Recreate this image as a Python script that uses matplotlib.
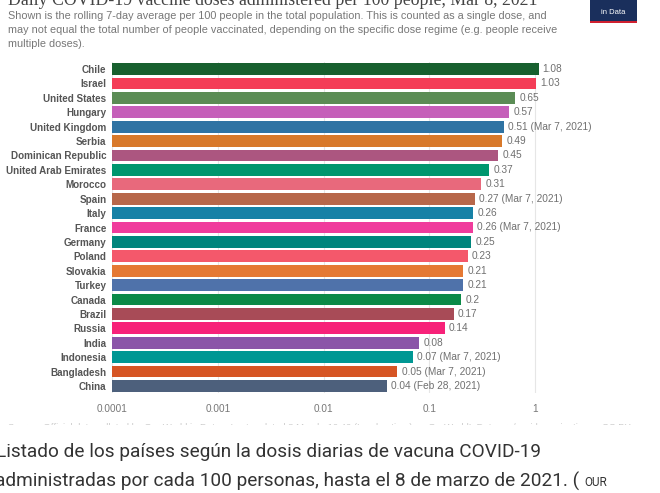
import numpy as np
import matplotlib.pyplot as plt
from matplotlib.patches import Rectangle

# datos del grafico (dosis diarias por 100 personas)
paises = ['Chile', 'Israel', 'United States', 'Hungary', 'United Kingdom', 'Serbia',
          'Dominican Republic', 'United Arab Emirates', 'Morocco', 'Spain', 'Italy',
          'France', 'Germany', 'Poland', 'Slovakia', 'Turkey', 'Canada', 'Brazil',
          'Russia', 'India', 'Indonesia', 'Bangladesh', 'China']
dosis = [1.08, 1.03, 0.65, 0.57, 0.51, 0.49, 0.45, 0.37, 0.31, 0.27, 0.26, 0.26,
         0.25, 0.23, 0.21, 0.21, 0.2, 0.17, 0.14, 0.08, 0.07, 0.05, 0.04]
etiquetas = ['1.08', '1.03', '0.65', '0.57', '0.51 (Mar 7, 2021)', '0.49', '0.45', '0.37',
             '0.31', '0.27 (Mar 7, 2021)', '0.26', '0.26 (Mar 7, 2021)', '0.25', '0.23',
             '0.21', '0.21', '0.2', '0.17', '0.14', '0.08', '0.07 (Mar 7, 2021)',
             '0.05 (Mar 7, 2021)', '0.04 (Feb 28, 2021)']
colores = ['#18602f', '#f43d57', '#5b8c55', '#c55fb9', '#2f73a3', '#d8792a', '#ac5680',
           '#00966e', '#e8697c', '#b7674a', '#1681a6', '#f03c9c', '#00857c', '#f4586b',
           '#e57934', '#4f72aa', '#0b8a47', '#a84b57', '#f72279', '#8b55a8', '#009793',
           '#d65524', '#4d607c']
ticks = [0.0001, 0.001, 0.01, 0.1, 1]
tick_txt = ['0.0001', '0.001', '0.01', '0.1', '1']

W, H = 660, 493
fig = plt.figure(figsize=(W / 100, H / 100), dpi=100)

# ejes en pixeles: 0.0001 en x=112, 1 en x=535
x0, x1 = 112, 640
dec = (535 - 112) / 4
xmax = 10 ** (-4 + (x1 - x0) / dec)
ytop, ybot = 61.8, 393.2
ax = fig.add_axes([x0 / W, 1 - ybot / H, (x1 - x0) / W, (ybot - ytop) / H])
ax.set_xscale('log')
ax.set_xlim(1e-4, xmax)
n = len(paises)
pos = np.arange(n)
ax.set_ylim(n - 0.5, -0.5)

for t in ticks:
    ax.axvline(t, color='#e6e6e6', lw=0.8, zorder=0)

ax.barh(pos, [d - 1e-4 for d in dosis], left=1e-4, height=0.82, color=colores, zorder=2)

for i, (d, lab) in enumerate(zip(dosis, etiquetas)):
    ax.annotate(lab, (d, i), xytext=(3, 0), textcoords='offset points',
                va='center', ha='left', fontsize=7.3, color='#707070',
                family='Liberation Sans')

ax.set_yticks(pos)
ax.set_yticklabels(paises, fontsize=7.1, fontweight='bold', color='#555555',
                   family='Liberation Sans')
ax.tick_params(axis='y', length=0, pad=4)
ax.set_xticks(ticks)
ax.set_xticklabels(tick_txt, fontsize=7.2, color='#777777', family='Liberation Sans')
ax.tick_params(axis='x', length=0, pad=8)
ax.minorticks_off()
for s in ax.spines.values():
    s.set_visible(False)

# titulo (cortado arriba) y subtitulo
fig.text(8 / W, 1 - 5 / H, 'Daily COVID-19 vaccine doses administered per 100 people, Mar 8, 2021',
         fontsize=12.8, family='Liberation Serif', color='#444444', va='baseline', ha='left')
sub = ['Shown is the rolling 7-day average per 100 people in the total population. This is counted as a single dose, and',
       'may not equal the total number of people vaccinated, depending on the specific dose regime (e.g. people receive',
       'multiple doses).']
for k, s in enumerate(sub):
    fig.text(8 / W, 1 - (16 + 14 * k) / H, s, fontsize=7.8, color='#777777',
             family='Liberation Sans', va='center', ha='left')

# logo
fig.patches.append(Rectangle((590 / W, 1 - 21 / H), 47 / W, 21 / H, transform=fig.transFigure,
                             facecolor='#1a2f5c', edgecolor='none'))
fig.patches.append(Rectangle((590 / W, 1 - 23 / H), 47 / W, 2.5 / H, transform=fig.transFigure,
                             facecolor='#d02030', edgecolor='none'))
fig.text(613 / W, 1 - 13 / H, 'in Data', fontsize=5.5, color='white', ha='center', va='center',
         family='Liberation Sans')

# fuente (casi cortada)
fig.text(8 / W, 1 - 427 / H,
         'Source: Official data collated by Our World in Data – Last updated 8 March, 10:40 (London time)      OurWorldInData.org/covid-vaccinations • CC BY',
         fontsize=6.8, color='#cccccc', family='Liberation Sans', va='center', ha='left')
fig.patches.append(Rectangle((0, 0), 1, 1 - 424.5 / H, transform=fig.transFigure,
                             facecolor='white', edgecolor='none', zorder=5))

# pie de foto
fig.text(-4 / W, 1 - 452 / H, 'Listado de los países según la dosis diarias de vacuna COVID-19',
         fontsize=13.7, color='#333333', family='Roboto', va='center', ha='left', zorder=6)
fig.text(-5 / W, 1 - 481 / H, 'administradas por cada 100 personas, hasta el 8 de marzo de 2021. (',
         fontsize=13.7, color='#333333', family='Roboto', va='center', ha='left', zorder=6)
fig.text(584 / W, 1 - 482 / H, 'OUR', fontsize=8.5, color='#333333', family='Roboto',
         va='center', ha='left', zorder=6)

fig.savefig('out.png', dpi=100)
